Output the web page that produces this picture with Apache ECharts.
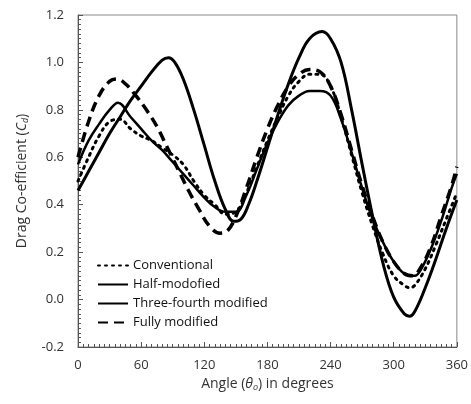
<!DOCTYPE html>
<html>
<head>
<meta charset="utf-8">
<script src="https://cdn.jsdelivr.net/npm/echarts@6/dist/echarts.min.js"></script>
<style>
  html, body { margin: 0; padding: 0; background: #fff; }
  #chart { width: 471px; height: 404px; }
</style>
</head>
<body>
<div id="chart"></div>
<script>
// angle (deg) / Cd pairs
const conventional = [[0,0.50],[10,0.60],[20,0.69],[30,0.75],[40,0.76],[50,0.72],[60,0.69],[70,0.67],[80,0.64],[90,0.61],[100,0.57],[110,0.50],[120,0.44],[130,0.40],[140,0.36],[150,0.37],[160,0.45],[170,0.56],[180,0.67],[190,0.77],[200,0.86],[210,0.92],[220,0.95],[230,0.95],[240,0.90],[250,0.77],[260,0.61],[270,0.45],[280,0.31],[290,0.19],[300,0.10],[310,0.06],[315,0.05],[320,0.06],[330,0.13],[340,0.23],[350,0.34],[360,0.45]]
const halfMod = [[0,0.46],[10,0.54],[20,0.62],[30,0.70],[40,0.77],[50,0.84],[60,0.90],[70,0.96],[80,1.01],[86,1.02],[92,1.00],[100,0.93],[110,0.80],[120,0.65],[130,0.50],[140,0.38],[148,0.33],[155,0.34],[162,0.40],[170,0.50],[180,0.64],[190,0.78],[200,0.91],[210,1.02],[220,1.10],[232,1.13],[240,1.10],[250,1.00],[260,0.80],[270,0.57],[280,0.35],[290,0.15],[300,0.01],[310,-0.06],[315,-0.07],[320,-0.05],[330,0.05],[340,0.17],[350,0.30],[360,0.42]]
const threeFourth = [[0,0.57],[10,0.67],[20,0.74],[30,0.80],[38,0.83],[50,0.77],[60,0.72],[70,0.67],[80,0.63],[90,0.58],[100,0.53],[110,0.48],[120,0.43],[130,0.39],[140,0.37],[150,0.37],[160,0.44],[170,0.55],[180,0.66],[190,0.75],[200,0.82],[210,0.86],[220,0.88],[230,0.88],[240,0.86],[250,0.76],[260,0.62],[270,0.47],[280,0.34],[290,0.24],[300,0.16],[310,0.11],[320,0.10],[325,0.12],[335,0.21],[345,0.33],[355,0.47],[360,0.53]]
const fullyMod = [[0,0.60],[10,0.75],[20,0.86],[30,0.92],[37,0.93],[45,0.91],[55,0.86],[65,0.80],[75,0.73],[85,0.64],[95,0.55],[105,0.46],[115,0.38],[125,0.31],[135,0.28],[142,0.29],[150,0.35],[160,0.47],[170,0.60],[180,0.72],[190,0.82],[200,0.90],[210,0.95],[220,0.97],[230,0.96],[240,0.90],[250,0.78],[260,0.63],[270,0.48],[280,0.35],[290,0.24],[300,0.16],[310,0.11],[318,0.10],[325,0.13],[335,0.22],[345,0.35],[355,0.48],[360,0.56]]
const names = ['Conventional', 'Half-modofied', 'Three-fourth modified', 'Fully modified']

const font = 'Open Sans'
var myChart = echarts.init(document.getElementById('chart'))
var option = {
  animation: false,
  textStyle: { fontFamily: font },
  grid: { left: 78, right: 10, top: 15, bottom: 57, show: true, borderColor: '#888', borderWidth: 1 },
  legend: {
    orient: 'vertical',
    left: 92, top: 254,
    itemWidth: 30, itemHeight: 14, itemGap: 6,
    data: names,
    itemStyle: { color: 'rgba(0,0,0,0)', borderColor: 'rgba(0,0,0,0)', borderWidth: 0 },
    textStyle: { fontSize: 13, color: '#111', fontFamily: font }
  },
  xAxis: {
    type: 'value', min: 0, max: 360, interval: 60,
    name: '{t|Angle (}{i|θ}{s|o}{t|) in degrees}',
    nameLocation: 'middle', nameGap: 30,
    nameTextStyle: {
      rich: {
        t: { fontSize: 14, color: '#333', fontFamily: font },
        i: { fontSize: 14, color: '#333', fontStyle: 'italic', fontFamily: font },
        s: { fontSize: 9, color: '#333', fontStyle: 'italic', fontFamily: font, verticalAlign: 'bottom', padding: [6, 0, 0, 0] }
      }
    },
    axisLine: { onZero: false, lineStyle: { color: '#555' } },
    axisTick: { inside: true, length: 5, lineStyle: { color: '#555' } },
    minorTick: { show: true, splitNumber: 12, length: 3, lineStyle: { color: '#555' } },
    splitLine: { show: false },
    axisLabel: { fontSize: 13, color: '#333', margin: 12 }
  },
  yAxis: {
    type: 'value', min: -0.2, max: 1.2, interval: 0.2,
    name: '{t|Drag Co-efficient (}{i|C}{s|d}{t|)}',
    nameLocation: 'middle', nameGap: 48,
    nameTextStyle: {
      rich: {
        t: { fontSize: 14, color: '#333', fontFamily: font },
        i: { fontSize: 14, color: '#333', fontStyle: 'italic', fontFamily: font },
        s: { fontSize: 9, color: '#333', fontStyle: 'italic', fontFamily: font, verticalAlign: 'bottom', padding: [6, 0, 0, 0] }
      }
    },
    axisLine: { show: true, onZero: false, lineStyle: { color: '#555' } },
    axisTick: { show: true, inside: true, length: 5, lineStyle: { color: '#555' } },
    minorTick: { show: true, splitNumber: 10, length: 3, lineStyle: { color: '#555' } },
    splitLine: { show: false },
    axisLabel: { fontSize: 13, color: '#333', margin: 14, formatter: v => v.toFixed(1) }
  },
  series: [
    { name: names[0], type: 'line', data: conventional, smooth: 0.4, symbol: 'none',
      lineStyle: { color: '#000', width: 3, type: [2, 5], cap: 'round' }, itemStyle: { color: '#000' } },
    { name: names[1], type: 'line', data: halfMod, smooth: 0.4, symbol: 'none',
      lineStyle: { color: '#000', width: 3 }, itemStyle: { color: '#000' } },
    { name: names[2], type: 'line', data: threeFourth, smooth: 0.4, symbol: 'none',
      lineStyle: { color: '#000', width: 2.5 }, itemStyle: { color: '#000' } },
    { name: names[3], type: 'line', data: fullyMod, smooth: 0.4, symbol: 'none',
      lineStyle: { color: '#000', width: 3.5, type: [10, 6] }, itemStyle: { color: '#000' } }
  ]
}
option && myChart.setOption(option)
</script>
</body>
</html>
